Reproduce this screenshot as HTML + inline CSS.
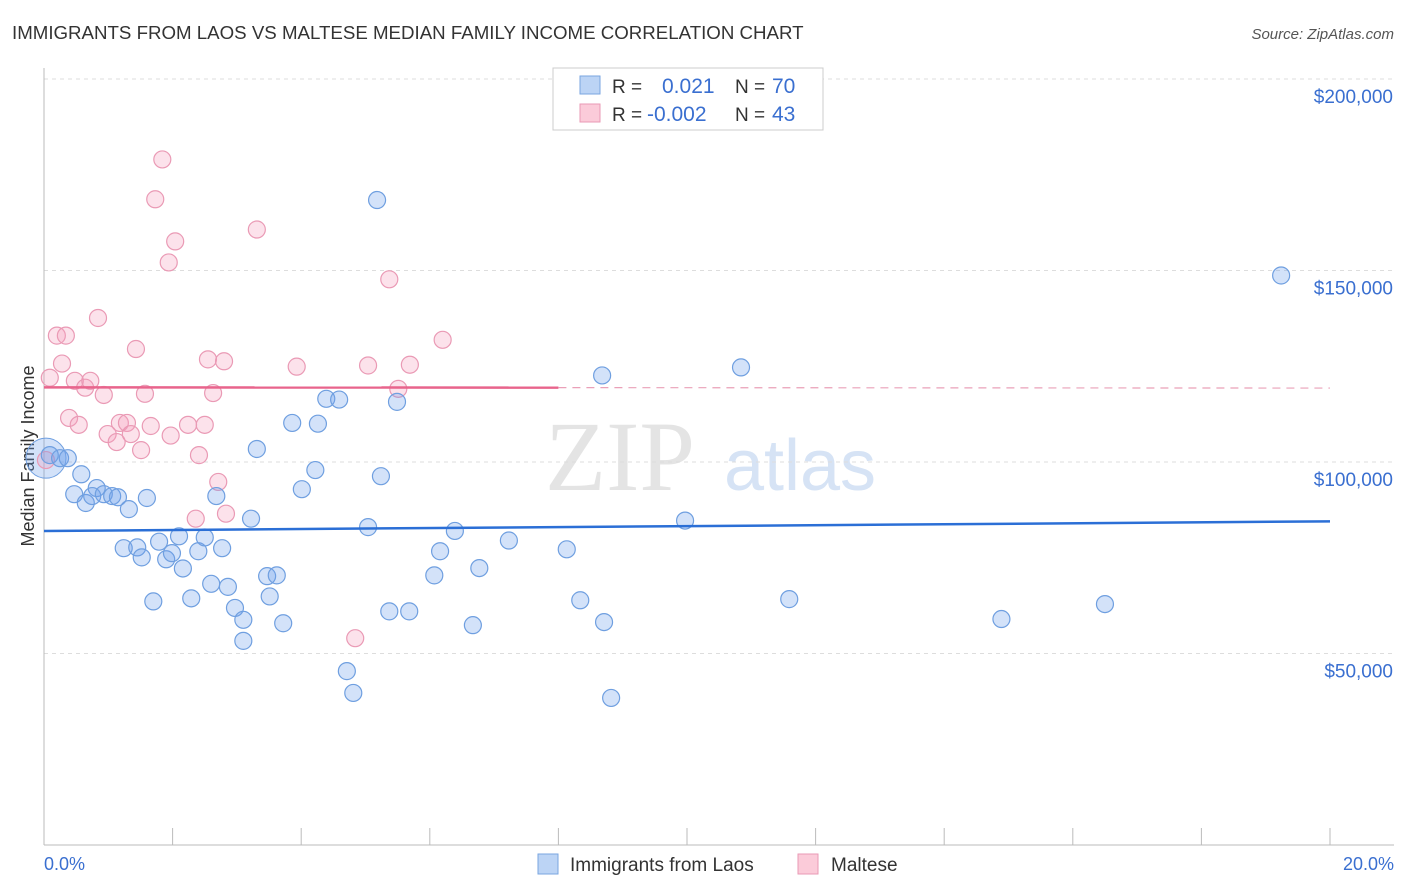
<!DOCTYPE html>
<html><head><meta charset="utf-8"><style>
body{margin:0;background:#fff;font-family:"Liberation Sans",sans-serif;}
svg{display:block}
</style></head><body>
<svg id="c" width="1406" height="892">
<text x="12" y="39" font-size="18.7" fill="#333">IMMIGRANTS FROM LAOS VS MALTESE MEDIAN FAMILY INCOME CORRELATION CHART</text>
<text x="1394" y="39" font-size="15" fill="#555" text-anchor="end" font-style="italic">Source: ZipAtlas.com</text>
<text x="620" y="490" font-size="100" fill="#e4e4e4" font-family="Liberation Serif,serif" text-anchor="middle">ZIP</text>
<text x="800" y="490" font-size="72" fill="#d6e3f5" text-anchor="middle">atlas</text>
<text transform="translate(34,456) rotate(-90)" font-size="18" fill="#333" text-anchor="middle">Median Family Income</text>
<g id="grid"></g><g id="pts"></g><g id="trend"></g>
<g>
<rect x="553" y="68" width="270" height="62" fill="#fff" stroke="#ccc"/>
<rect x="580" y="76" width="20" height="18" fill="#bcd4f5" stroke="#7aa6e0"/>
<rect x="580" y="104" width="20" height="18" fill="#fbcbd9" stroke="#e99ab5"/>
<text x="612" y="93" font-size="19" fill="#333">R =</text>
<text x="662" y="93" font-size="21" fill="#3a6fd0">0.021</text>
<text x="735" y="93" font-size="19" fill="#333">N =</text>
<text x="772" y="93" font-size="21" fill="#3a6fd0">70</text>
<text x="612" y="121" font-size="19" fill="#333">R =</text>
<text x="647" y="121" font-size="21" fill="#3a6fd0">-0.002</text>
<text x="735" y="121" font-size="19" fill="#333">N =</text>
<text x="772" y="121" font-size="21" fill="#3a6fd0">43</text>
</g>
<g>
<rect x="538" y="854" width="20" height="20" fill="#bcd4f5" stroke="#7aa6e0"/>
<text x="570" y="871" font-size="19" fill="#333">Immigrants from Laos</text>
<rect x="798" y="854" width="20" height="20" fill="#fbcbd9" stroke="#e99ab5"/>
<text x="831" y="871" font-size="19" fill="#333">Maltese</text>
</g>
<text x="44" y="870" font-size="18" fill="#3a6fd0">0.0%</text>
<text x="1394" y="870" font-size="18" fill="#3a6fd0" text-anchor="end">20.0%</text>
</svg>
<script>
const yTicks=[50000,100000,150000,200000];
const yTickLabels=["$50,000","$100,000","$150,000","$200,000"];
const blueX=[0.09,0.25,0.37,0.58,0.47,0.65,0.82,0.75,0.93,1.06,1.15,1.32,1.60,1.24,1.45,1.52,1.70,1.79,1.90,1.99,2.10,2.16,2.29,2.40,2.50,2.60,2.68,2.77,2.86,2.97,3.10,3.10,3.22,3.31,3.47,3.51,3.62,3.72,3.86,4.01,4.22,4.26,4.39,4.59,4.71,4.81,5.04,5.18,5.24,5.37,5.49,5.68,6.16,6.07,6.39,6.67,6.77,7.23,8.13,8.34,8.68,8.71,8.82,9.97,10.84,11.59,14.89,16.50,19.24];
const blueY=[101800,101000,101000,96800,91600,89300,93200,91100,91600,91100,90800,87700,90600,77500,77700,75100,63600,79200,74600,76200,80600,72200,64400,76700,80300,68200,91100,77500,67400,61900,58800,53300,85200,103400,70200,64900,70400,57900,110200,92900,97900,110000,116500,116300,45400,39700,83000,168400,96300,61000,115700,61000,76700,70400,82000,57400,72300,79500,77200,63900,122600,58200,38400,84700,124700,64200,59000,62900,148700];
const pinkX=[0.09,0.20,0.28,0.34,0.39,0.48,0.54,0.64,0.72,0.84,0.93,0.99,1.13,1.18,1.29,1.35,1.43,1.51,1.57,1.66,1.73,1.84,1.94,1.97,2.04,2.24,2.36,2.41,2.50,2.55,2.63,2.71,2.80,2.83,3.31,3.93,4.84,5.04,5.37,5.51,5.69,6.20,0.03];
const pinkY=[122000,133000,125700,133000,111500,121200,109700,119400,121200,137600,117500,107300,105200,110200,110200,107300,129500,103100,117800,109400,168600,179000,152100,106900,157600,109700,85200,101800,109700,126800,118000,94800,126300,86500,160700,124900,54000,125200,147700,119100,125400,131900,100500];
const blueTrend=[82000,84500], pinkTrend=[119500,119300];
const X0=44,X1=1330,xs=v=>X0+v/20*(X1-X0);
const ys=v=>845-v*(845-462)/100000;
const NS="http://www.w3.org/2000/svg";
function mk(p,t,a){const e=document.createElementNS(NS,t);for(const k in a)e.setAttribute(k,a[k]);p.appendChild(e);return e;}
const g=document.getElementById('grid');
yTicks.forEach((v,i)=>{
 const l=mk(g,'line',{x1:44,x2:1394,y1:ys(v),y2:ys(v),stroke:'#ddd','stroke-dasharray':'4,4'});
 
 
 const t=mk(g,'text',{x:1393,y:ys(v)+24,'font-size':19,fill:'#3a6fd0','text-anchor':'end'});
 t.textContent=yTickLabels[i];
 
 
});
mk(g,'line',{x1:44,x2:44,y1:68,y2:845,stroke:'#bbb'});
mk(g,'line',{x1:44,x2:1394,y1:845,y2:845,stroke:'#bbb'});
for(let i=0;i<=10;i++){const x=xs(i*2);const l=mk(g,'line',{x1:x,x2:x,y1:828,y2:845,stroke:'#bbb'});
 
 }
const p=document.getElementById('pts');
const big1=mk(p,'circle',{cx:46,cy:ys(101000),r:20,fill:'rgba(110,160,235,0.3)',stroke:'#6f9fe0'});


pinkX.forEach((x,i)=>{const c=mk(p,'circle',{cx:xs(x),cy:ys(pinkY[i]),r:8.5,fill:'rgba(245,160,190,0.3)',stroke:'#ea9ab5','stroke-width':1.2});
 
 });
blueX.forEach((x,i)=>{const c=mk(p,'circle',{cx:xs(x),cy:ys(blueY[i]),r:8.5,fill:'rgba(110,160,235,0.3)',stroke:'#6f9fe0','stroke-width':1.2});
 
 });
const tr=document.getElementById('trend');
const bl=mk(tr,'line',{x1:xs(0),x2:xs(20),y1:ys(blueTrend[0]),y2:ys(blueTrend[1]),stroke:'#2b6fd6','stroke-width':2.5});


const pm=ys(pinkTrend[0]+(pinkTrend[1]-pinkTrend[0])*0.4);
const pl=mk(tr,'line',{x1:xs(0),x2:xs(8),y1:ys(pinkTrend[0]),y2:pm,stroke:'#e8648c','stroke-width':2.5});


const pd=mk(tr,'line',{x1:xs(8),x2:xs(20),y1:pm,y2:ys(pinkTrend[1]),stroke:'#eaa0b8','stroke-width':1.2,'stroke-dasharray':'8,6'});


</script>
</body></html>
